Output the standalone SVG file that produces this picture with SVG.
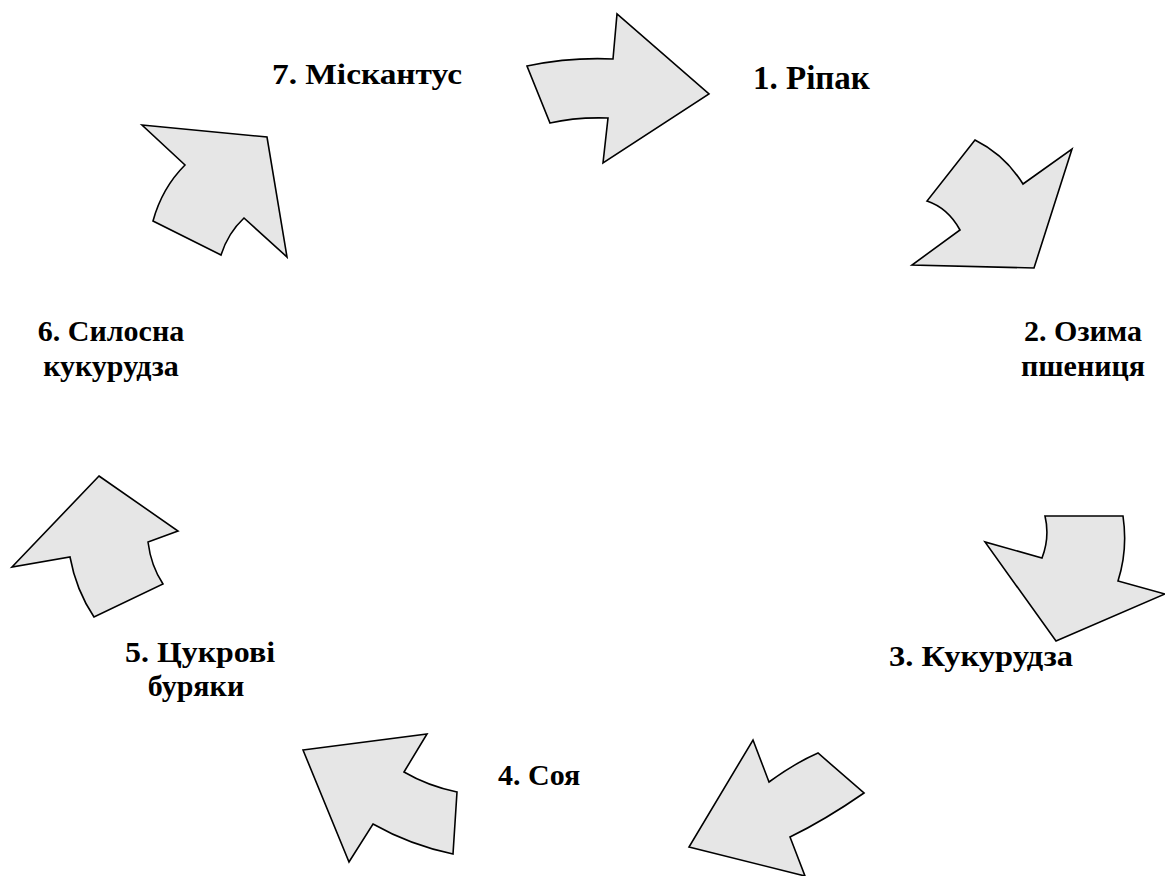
<svg xmlns="http://www.w3.org/2000/svg" width="1165" height="876" viewBox="0 0 1165 876">
  <style>
    .arrow { fill: #e6e6e6; stroke: #000; stroke-width: 1.6; stroke-linejoin: miter; }
    .label { font-weight: bold; font-size: 30px; fill: #000; }
    .big { font-size: 33px; }
    .mid { text-anchor: middle; }
  </style>
  <rect width="1165" height="876" fill="#fff"/>

  <!-- curved block arrows running clockwise between the crops -->
  <g id="connectors">
    <path id="arrow-1-2" class="arrow" d="M527,66 Q570,57 613,59 L617,14 L709,94 L603,163 L608,118 Q575,117 550,123 Z"/>
    <path id="arrow-2-3" class="arrow" d="M975,140 Q1005,155 1023,184 L1072,149 L1034,268 L912,265 L960,230 Q948,208 927,201 Z"/>
    <path id="arrow-3-4" class="arrow" d="M1045,516 L1123,516 Q1128,550 1118,581 L1165,594 L1056,641 L985,542 L1042,558 Q1050,537 1045,516 Z"/>
    <path id="arrow-4-5" class="arrow" d="M753,740 L769,782 Q795,763 818,753 L864,793 Q825,820 790,837 L805,876 L689,847 Z"/>
    <path id="arrow-5-6" class="arrow" d="M303,750 L427,734 L404,772 Q428,786 457,792 L453,854 Q410,845 373,824 L349,862 Z"/>
    <path id="arrow-6-7" class="arrow" d="M99,476 L178,531 L148,542 Q151,566 163,584 L94,617 Q76,590 70,557 L12,567 Z"/>
    <path id="arrow-7-1" class="arrow" d="M142,125 L267,137 L287,257 L244,218 Q228,233 221,255 L153,221 Q162,188 185,165 Z"/>
  </g>

  <g id="labels" font-family="Liberation Serif, Times New Roman, DejaVu Serif, serif">
    <g id="node-1"><text class="label big" x="753" y="89">1. Ріпак</text></g>
    <g id="node-2"><text class="label mid" x="1083" y="341">2. Озима</text><text class="label mid" x="1083" y="376">пшениця</text></g>
    <g id="node-3"><text class="label" x="889" y="666" textLength="184" lengthAdjust="spacingAndGlyphs">3. Кукурудза</text></g>
    <g id="node-4"><text class="label" x="498" y="785">4. Соя</text></g>
    <g id="node-5"><text class="label mid" x="200" y="662" textLength="150" lengthAdjust="spacingAndGlyphs">5. Цукрові</text><text class="label mid" x="196" y="696">буряки</text></g>
    <g id="node-6"><text class="label mid" x="111" y="341">6. Силосна</text><text class="label mid" x="111" y="376">кукурудза</text></g>
    <g id="node-7"><text class="label" x="272" y="84" textLength="190" lengthAdjust="spacingAndGlyphs">7. Міскантус</text></g>
  </g>
</svg>
